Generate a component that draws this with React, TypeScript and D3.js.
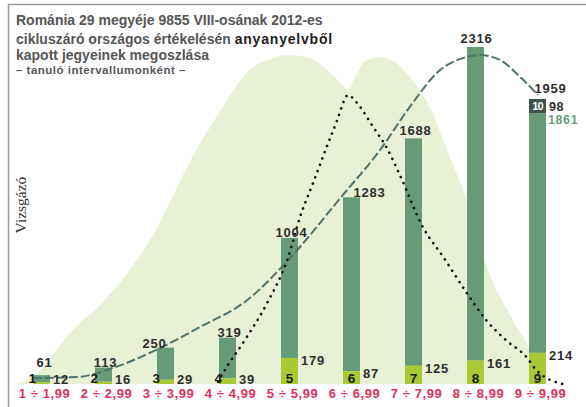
import React from 'react';
import * as d3 from 'd3';

// ---------- data ----------
const categories = ['1 ÷ 1,99', '2 ÷ 2,99', '3 ÷ 3,99', '4 ÷ 4,99', '5 ÷ 5,99', '6 ÷ 6,99', '7 ÷ 7,99', '8 ÷ 8,99', '9 ÷ 9,99'];
const gradeDigits = ['1', '2', '3', '4', '5', '6', '7', '8', '9'];
const intervalStarts = [1, 2, 3, 4, 5, 6, 7, 8, 9];
const totals = [61, 113, 250, 319, 1004, 1283, 1688, 2316, 1959];
const exactGrade = [12, 16, 29, 39, 179, 87, 125, 161, 214];
const topGradeLabel = '10';
const topGradeCount = 98;
const lastBarRest = 1861;

// background reference distribution (two humps), [grade, count]
const bgHumpA: [number, number][] = [
  [1.07, 0], [1.36, 50], [2.0, 370], [2.45, 545], [3.25, 990], [4.0, 1610], [4.33, 1840],
  [4.86, 2160], [5.2, 2235], [5.45, 2260], [5.75, 2250], [6.15, 2140], [6.45, 2005],
  [6.8, 1780], [7.3, 1330], [7.75, 850], [8.25, 370], [8.65, 0],
];
const bgHumpB: [number, number][] = [
  [5.19, 0], [5.5, 580], [5.83, 1200], [6.15, 1680], [6.44, 2005], [6.6, 2145], [6.75, 2228],
  [6.96, 2248], [7.2, 2213], [7.44, 2110], [7.8, 1870], [8.04, 1610], [8.36, 1265],
  [8.68, 805], [9.1, 440], [9.38, 235], [9.62, 0],
];
// fitted curve (dashed)
const dashedCurve: [number, number][] = [
  [1.36, 41], [2.07, 48], [2.65, 110], [3.41, 247], [4.06, 392], [4.82, 577], [5.48, 852],
  [6.32, 1278], [6.96, 1608], [7.44, 1904], [7.93, 2158], [8.36, 2247], [8.57, 2261],
  [8.9, 2226], [9.22, 2110], [9.51, 1986],
];
// second curve (dotted)
const dottedCurve: [number, number][] = [
  [4.35, 14], [4.43, 76], [4.78, 302], [5.14, 557], [5.48, 873], [5.67, 1148], [5.88, 1381],
  [6.1, 1629], [6.27, 1814], [6.4, 1965], [6.44, 1986], [6.59, 1931], [6.85, 1766],
  [7.07, 1622], [7.28, 1436], [7.65, 1079], [7.98, 873], [8.36, 625], [8.67, 440],
  [8.99, 302], [9.32, 186], [9.48, 96], [9.91, 0],
];

const titleLine1 = 'Románia 29 megyéje 9855 VIII-osának 2012-es';
const titleLine2a = 'cikluszáró országos értékelésén ';
const titleLine2b = 'anyanyelvből';
const titleLine3 = 'kapott jegyeinek megoszlása';
const titleLine4 = '– tanuló intervallumonként –';
const yAxisLabel = 'Vizsgázó';

// ---------- layout (not data) ----------
const W = 586;
const H = 407;
const BAR_W = 17;
const totalLabelDx = [3, 2, -11, 2, 2, 18, 2, 1, 13];
const totalLabelDy = [-8, -1, 0, -1, -1, 0, -3, -4, -6];

const C_BAR = '#679b78';
const C_LIGHT = '#a8c834';
const C_BG = '#e8f0d6';
const C_DARK = '#3f5249';
const C_TXT = '#2e2e2e';
const C_CAT = '#e0305c';
const FONT = "'Liberation Sans', Arial, sans-serif";

export default function App() {
  const x = d3.scaleLinear().domain([1, 10]).range([10.5, 568.5]);
  const y = d3.scaleLinear().domain([0, 2316]).range([384, 47]);

  const area = d3
    .area<[number, number]>()
    .x((d) => x(d[0]))
    .y0(y(0))
    .y1((d) => y(d[1]))
    .curve(d3.curveMonotoneX);
  const line = d3
    .line<[number, number]>()
    .x((d) => x(d[0]))
    .y((d) => y(d[1]))
    .curve(d3.curveMonotoneX);

  const last = totals.length - 1;
  const lastCx = x(intervalStarts[last] + 0.5);

  return (
    <svg width={W} height={H} style={{ position: 'absolute', left: 0, top: 0, background: '#fff' }} fontFamily={FONT}>
      {/* frame */}
      <path d={`M8.5,${H} V4.5 H${W}`} fill="none" stroke="#9a9a9a" strokeWidth={1.5} />

      {/* background humps */}
      <path d={area(bgHumpA) || ''} fill={C_BG} />
      <path d={area(bgHumpB) || ''} fill={C_BG} />

      {/* bars */}
      {totals.map((t, i) => {
        const cx = x(intervalStarts[i] + 0.5);
        const left = cx - BAR_W / 2;
        const isLast = i === last;
        const greenTop = isLast ? lastBarRest : t;
        return (
          <g key={i}>
            <rect x={left} y={y(greenTop)} width={BAR_W} height={y(exactGrade[i]) - y(greenTop)} fill={C_BAR} />
            <rect x={left} y={y(exactGrade[i])} width={BAR_W} height={y(0) - y(exactGrade[i])} fill={C_LIGHT} />
            {isLast && (
              <rect x={left} y={y(t)} width={BAR_W} height={y(lastBarRest) - y(t)} fill={C_DARK} />
            )}
          </g>
        );
      })}

      {/* curves */}
      <path d={line(dashedCurve) || ''} fill="none" stroke="#4f726b" strokeWidth={2} strokeDasharray="9 3" />
      <path d={line(dottedCurve) || ''} fill="none" stroke="#111" strokeWidth={2.6} strokeDasharray="0.1 6.6" strokeLinecap="round" />

      {/* labels */}
      {totals.map((t, i) => {
        const cx = x(intervalStarts[i] + 0.5);
        const left = cx - BAR_W / 2;
        const right = cx + BAR_W / 2;
        const lightTop = y(exactGrade[i]);
        const segH = y(0) - lightTop;
        const big = segH >= 12;
        return (
          <g key={'l' + i} fontWeight="bold">
            <text x={cx + totalLabelDx[i]} y={y(t) + totalLabelDy[i]} textAnchor="middle" fontSize={13} letterSpacing={0.8} fill={C_TXT}>
              {t}
            </text>
            <text x={right + 3} y={Math.min(lightTop + 7, 384)} fontSize={13} letterSpacing={0.8} fill={C_TXT}>
              {exactGrade[i]}
            </text>
            <text
              x={big ? cx : left + 3}
              y={383}
              textAnchor={big ? 'middle' : 'end'}
              fontSize={13.5}
              fill="#1a1a1a"
            >
              {gradeDigits[i]}
            </text>
            <text x={cx + 3} y={398} textAnchor="middle" fontSize={13} letterSpacing={0.6} fill={C_CAT}>
              {categories[i]}
            </text>
          </g>
        );
      })}

      {/* top of last bar: grade 10 */}
      <text
        x={lastCx}
        y={(y(totals[last]) + y(lastBarRest)) / 2 + 4}
        textAnchor="middle"
        fontSize={11}
        fontWeight="bold"
        fill="#fff"
        letterSpacing={-0.8}
      >
        {topGradeLabel}
      </text>
      <text x={lastCx + BAR_W / 2 + 3} y={y(totals[last]) + 12} fontSize={12.5} fontWeight="bold" fill={C_TXT} letterSpacing={0.6}>
        {topGradeCount}
      </text>
      <text x={lastCx + BAR_W / 2 + 2} y={y(totals[last]) + 25} fontSize={12.5} fontWeight="bold" fill="#6a9f80" letterSpacing={0.6}>
        {lastBarRest}
      </text>

      {/* y axis label */}
      <text transform="translate(26,205) rotate(-90)" textAnchor="middle" fontFamily="'Liberation Serif', 'Times New Roman', serif" fontSize={15.5} fill="#333">
        {yAxisLabel}
      </text>

      {/* title */}
      <g fontWeight="bold" fill="#565656">
        <text x={16} y={25} fontSize={14}>{titleLine1}</text>
        <text x={16} y={43.5} fontSize={14}>
          {titleLine2a}
          <tspan fill="#1e1e1e" letterSpacing={0.8}>{titleLine2b}</tspan>
        </text>
        <text x={16} y={59.5} fontSize={14}>{titleLine3}</text>
        <text x={16} y={73.5} fontSize={11.5} letterSpacing={0.5}>{titleLine4}</text>
      </g>
    </svg>
  );
}
